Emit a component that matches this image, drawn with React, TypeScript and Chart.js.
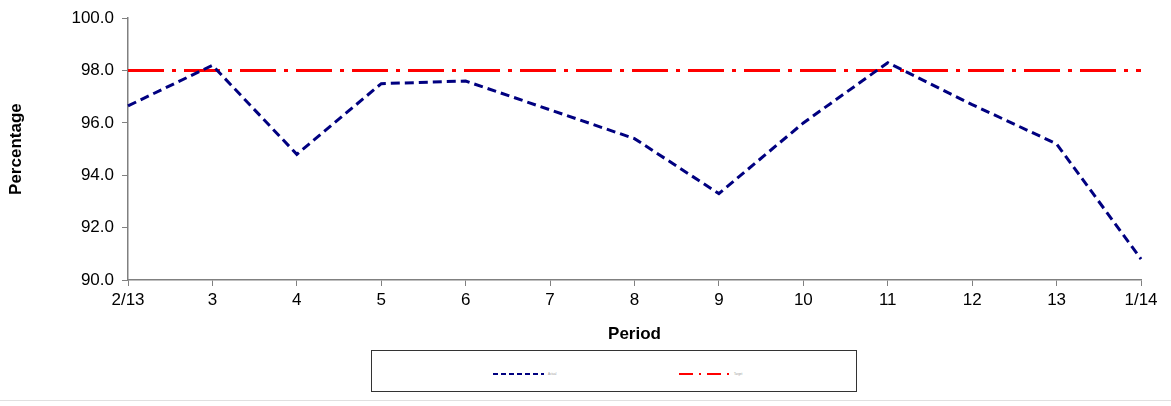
import React, { useEffect, useRef } from "react";
import { Chart, registerables } from "chart.js";

Chart.register(...registerables);

const periods = ["2/13", "3", "4", "5", "6", "7", "8", "9", "10", "11", "12", "13", "1/14"];
const actual = [96.65, 98.2, 94.8, 97.5, 97.6, 96.5, 95.4, 93.3, 96.0, 98.3, 96.7, 95.2, 90.8];
const target = [98, 98, 98, 98, 98, 98, 98, 98, 98, 98, 98, 98, 98];

const App = () => {
  const chartRef = useRef<HTMLCanvasElement | null>(null);

  useEffect(() => {
    if (!chartRef.current) return;
    const ctx = chartRef.current.getContext("2d");
    if (!ctx) return;
    const myChart = new Chart(ctx, {
      type: "line",
      data: {
        labels: periods,
        datasets: [
          {
            label: "Actual",
            data: actual,
            borderColor: "#000080",
            borderWidth: 3,
            borderDash: [9, 5],
            pointRadius: 0,
            tension: 0,
          },
          {
            label: "Target",
            data: target,
            borderColor: "#ff0000",
            borderWidth: 3,
            borderDash: [36, 8, 4, 8],
            pointRadius: 0,
          },
        ],
      },
      options: {
        responsive: false,
        animation: false,
        layout: { padding: { left: 0, right: 30, top: 17, bottom: 0 } },
        plugins: { legend: { display: false }, tooltip: { enabled: false } },
        scales: {
          x: {
            offset: false,
            grid: { drawOnChartArea: false, tickLength: 6, color: "#808080" },
            border: { color: "#808080", width: 1.5 },
            ticks: { color: "#000", font: { family: "Arial, Liberation Sans", size: 17 }, maxRotation: 0, autoSkip: false, padding: 4 },
            title: {
              display: true,
              text: "Period",
              color: "#000",
              font: { family: "Arial, Liberation Sans", size: 17, weight: "bold" },
              padding: { top: 6, bottom: 0 },
            },
            afterFit: (s: any) => {
              s.height = 65;
            },
          },
          y: {
            min: 90,
            max: 100,
            grid: { drawOnChartArea: false, tickLength: 6, color: "#808080" },
            border: { color: "#808080", width: 1.5 },
            ticks: {
              stepSize: 2,
              padding: 8,
              color: "#000",
              font: { family: "Arial, Liberation Sans", size: 17 },
              callback: (v: any) => Number(v).toFixed(1),
            },
            title: {
              display: true,
              text: "Percentage",
              color: "#000",
              font: { family: "Arial, Liberation Sans", size: 17, weight: "bold" },
              padding: { top: 6, bottom: 10 },
            },
            afterFit: (s: any) => {
              s.width = 128;
            },
          },
        },
      },
    });
    return () => {
      myChart.destroy();
    };
  }, []);

  return (
    <div style={{ position: "fixed", left: 0, top: 0, width: 1171, height: 406, background: "#fff" }}>
      <canvas ref={chartRef} width={1171} height={345} style={{ display: "block" }} />
      <div
        style={{
          position: "absolute",
          left: 371,
          top: 350,
          width: 484,
          height: 40,
          border: "1.5px solid #333",
          fontFamily: "Arial",
        }}
      >
        <svg width={484} height={40} style={{ position: "absolute", left: 0, top: 0 }}>
          <line x1={121} y1={23} x2={172} y2={23} stroke="#000080" strokeWidth={2} strokeDasharray="5,3" />
          <line x1={307} y1={23} x2={357} y2={23} stroke="#ff0000" strokeWidth={2} strokeDasharray="14,6,2,6" />
        </svg>
        <span style={{ position: "absolute", left: 176, top: 21, fontSize: 3, color: "#999" }}>Actual</span>
        <span style={{ position: "absolute", left: 362, top: 21, fontSize: 3, color: "#999" }}>Target</span>
      </div>
      <div style={{ position: "absolute", left: 0, top: 400, width: 1171, height: 1, background: "#e0e0e0" }} />
    </div>
  );
};

export default App;
